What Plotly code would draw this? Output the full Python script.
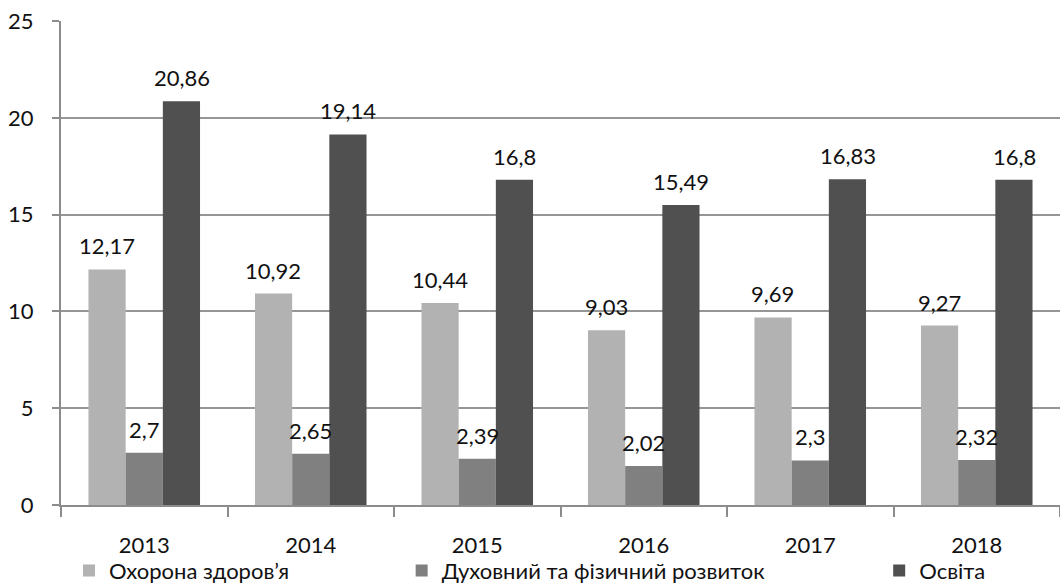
import plotly.graph_objects as go

years = ["2013", "2014", "2015", "2016", "2017", "2018"]
health = [12.17, 10.92, 10.44, 9.03, 9.69, 9.27]
spirit = [2.7, 2.65, 2.39, 2.02, 2.3, 2.32]
educ = [20.86, 19.14, 16.8, 15.49, 16.83, 16.8]
names = ["Охорона здоров’я", "Духовний та фізичний розвиток", "Освіта"]
colors = ["#b2b2b2", "#808080", "#505050"]
series = [health, spirit, educ]

FONT = "Lato, Liberation Sans, sans-serif"
FS = 22

def fmt(v):
    return ("%g" % v).replace(".", ",")

fig = go.Figure()
legends = ["legend", "legend2", "legend3"]
for i, (nm, vals, c) in enumerate(zip(names, series, colors)):
    fig.add_trace(go.Bar(
        x=years, y=vals, name=nm, marker=dict(color=c, line=dict(width=0)),
        legend=legends[i], showlegend=True, hoverinfo="skip",
    ))

bar_px = 37.5
for i, vals in enumerate(series):
    for j, v in enumerate(vals):
        fig.add_annotation(x=j, y=v, text=fmt(v), showarrow=False,
                           xshift=(i - 1) * bar_px, yanchor="bottom", yshift=8,
                           font=dict(family=FONT, size=FS, color="#111"))

leg_common = dict(orientation="h", yanchor="middle", y=-0.136, xanchor="left",
                  font=dict(family=FONT, size=FS, color="#111"),
                  bgcolor="rgba(0,0,0,0)", itemclick=False)
fig.update_layout(
    width=1060, height=583,
    margin=dict(l=61, r=0, t=21, b=78, autoexpand=False),
    paper_bgcolor="white", plot_bgcolor="white",
    barmode="group", bargap=0.33, bargroupgap=0,
    font=dict(family=FONT, size=FS, color="#111"),
    legend=dict(x=0.008, **leg_common),
    legend2=dict(x=0.341, **leg_common),
    legend3=dict(x=0.819, **leg_common),
    xaxis=dict(type="category", range=[-0.5, len(years) - 0.5], automargin=False,
               showline=True, linecolor="#8c8c8c", linewidth=2,
               ticks="outside", tickson="boundaries", ticklen=10, tickcolor="#8c8c8c",
               tickwidth=2, showgrid=False, ticklabelstandoff=20, tickangle=0,
               tickfont=dict(family=FONT, size=FS, color="#111")),
    yaxis=dict(range=[0, 25], dtick=5, automargin=False,
               showline=True, linecolor="#8c8c8c", linewidth=2,
               ticks="outside", ticklen=7, tickcolor="#8c8c8c", tickwidth=2,
               showgrid=True, gridcolor="#969696", gridwidth=2, zeroline=False,
               ticklabelstandoff=14,
               tickfont=dict(family=FONT, size=FS, color="#111")),
)
fig.write_html("out.html")
